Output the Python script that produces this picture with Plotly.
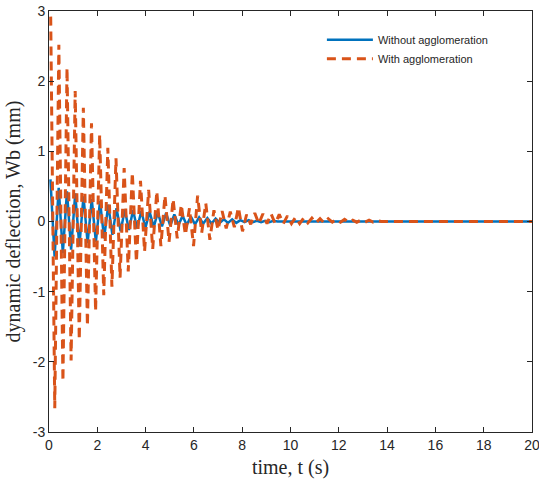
import plotly.graph_objects as go

# ---- data (extrema of the oscillations) ----
# "Without agglomeration": successive peak values (alternating max / min)
blue_first_peak_t = 0.06      # s, time of first extremum
blue_half_period = 0.171      # s, time between successive extrema
blue_peaks = [
    0.60, -0.50, 0.48, -0.45, 0.43, -0.40, 0.40, -0.35, 0.36, -0.31,
    0.32, -0.29, 0.29, -0.24, 0.24, -0.19, 0.19, -0.14, 0.17, -0.12,
    0.16, -0.10, 0.15, -0.09, 0.14, -0.08, 0.13, -0.07, 0.12, -0.06,
    0.10, -0.05, 0.08, -0.05, 0.07, -0.04, 0.06, -0.03, 0.05, -0.03,
    0.04, -0.02, 0.03, -0.02, 0.03, -0.02, 0.02, -0.01, 0.02, -0.01,
    0.01, -0.01, 0.01, -0.01, 0.01, 0.0,
]

# "With agglomeration": successive peak values (alternating max / min)
orange_first_peak_t = 0.07
orange_half_period = 0.169
orange_peaks = [
    2.92, -2.66, 2.52, -2.28, 2.19, -1.98, 1.86, -1.69, 1.62, -1.49,
    1.40, -1.28, 1.24, -1.05, 1.05, -0.93, 0.90, -0.80, 0.76, -0.71,
    0.70, -0.58, 0.58, -0.43, 0.45, -0.39, 0.43, -0.35, 0.37, -0.29,
    0.32, -0.24, 0.24, -0.19, 0.19, -0.35, 0.37, -0.16, 0.26, -0.26,
    0.16, -0.12, 0.15, -0.10, 0.14, -0.08, 0.20, -0.14, 0.10, -0.04,
    0.12, -0.03, 0.11, -0.03, 0.11, -0.03, 0.10, -0.03, 0.08, -0.03,
    0.06, -0.03, 0.05, -0.02, 0.05, -0.02, 0.04, -0.02, 0.04, -0.01,
    0.03, -0.01, 0.03, -0.01, 0.02, -0.01, 0.02, -0.01, 0.02, -0.01,
    0.01, 0.0,
]

t_end = 20.0
end_value = 0.0

x_ticks = [0, 2, 4, 6, 8, 10, 12, 14, 16, 18, 20]
y_ticks = [-3, -2, -1, 0, 1, 2, 3]

series_names = ["Without agglomeration", "With agglomeration"]


def build(first_t, half_period, peaks):
    t = [first_t + i * half_period for i in range(len(peaks))] + [t_end]
    v = list(peaks) + [end_value]
    return t, v


tb, vb = build(blue_first_peak_t, blue_half_period, blue_peaks)
to, vo = build(orange_first_peak_t, orange_half_period, orange_peaks)

fig = go.Figure()
fig.add_trace(go.Scatter(
    x=tb, y=vb, mode="lines", name=series_names[0],
    line=dict(color="#0072BD", width=2.5),
))
fig.add_trace(go.Scatter(
    x=to, y=vo, mode="lines", name=series_names[1],
    line=dict(color="#D95319", width=3, dash="9px,6px"),
))

axis_common = dict(
    showgrid=False, zeroline=False, showline=True, linecolor="#262626",
    linewidth=1, mirror="ticks", ticks="inside", ticklen=5,
    tickcolor="#262626", ticklabeloverflow="allow",
    tickfont=dict(family="Liberation Sans, Arial", size=14, color="#262626"),
)

fig.update_layout(
    width=539, height=490,
    margin=dict(l=49, r=7, t=11, b=58),
    paper_bgcolor="white", plot_bgcolor="white",
    showlegend=True,
    legend=dict(
        x=0.565, y=0.966, xanchor="left", yanchor="top",
        bgcolor="rgba(255,255,255,0)", borderwidth=0,
        font=dict(family="Liberation Sans, Arial", size=11, color="#262626"),
        itemwidth=46, tracegroupgap=0,
    ),
    xaxis=dict(range=[0, 20], tickvals=x_ticks, ticktext=[str(v) for v in x_ticks],
               title=dict(text="time, t (s)", standoff=8,
                          font=dict(family="Liberation Serif, Times New Roman", size=20, color="#262626")),
               automargin=False, **axis_common),
    yaxis=dict(range=[-3, 3], tickvals=y_ticks, ticktext=[str(v) for v in y_ticks],
               title=dict(text="dynamic deflection, Wb (mm)", standoff=6,
                          font=dict(family="Liberation Serif, Times New Roman", size=20, color="#262626")),
               automargin=False, **axis_common),
)

fig.write_html("out.html", config={"displayModeBar": False},
               post_script="document.body.style.margin='0';")
